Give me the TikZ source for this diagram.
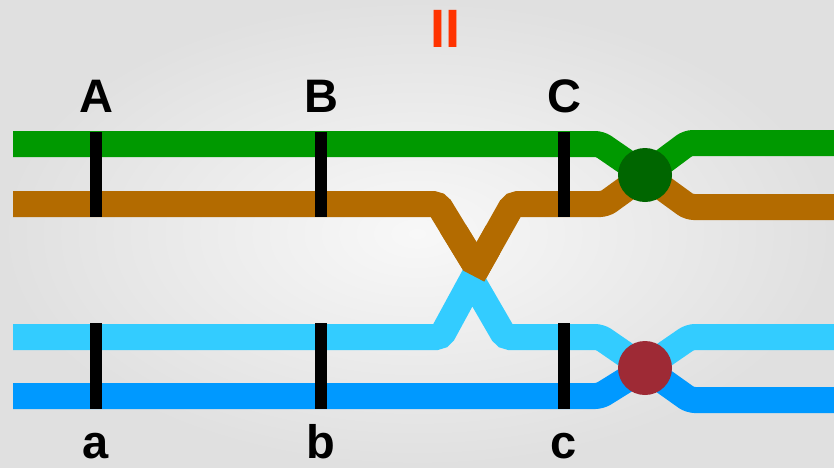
\documentclass[tikz,border=0pt]{standalone}
\usepackage{fontspec}
\setmainfont{Liberation Sans}
\definecolor{cgreen}{HTML}{009900}
\definecolor{corange}{HTML}{B36B00}
\definecolor{clight}{HTML}{33CCFF}
\definecolor{cblue}{HTML}{0099FF}
\definecolor{cdgreen}{HTML}{006600}
\definecolor{cred}{HTML}{9E2A35}
\definecolor{ctitle}{HTML}{FF3300}
\definecolor{bgin}{HTML}{F8F8F8}
\definecolor{bgout}{HTML}{E0E0E0}
\begin{document}
\begin{tikzpicture}[x=1pt,y=-1pt,
  track/.style={line width=26pt, rounded corners=5pt},
  tick/.style={line width=12pt, black},
  lbl/.style={font=\fontsize{47}{47}\selectfont\bfseries, anchor=base, inner sep=0pt},
  junc/.style={circle, minimum size=54pt, inner sep=0pt}]
\shade[inner color=bgin, outer color=bgout] (0,0) rectangle (834,467);
\useasboundingbox (0,0) rectangle (834,467);
% junction points
\coordinate (j1) at (645,175);
\coordinate (j2) at (645,368);
\coordinate (xo) at (477,268);
\coordinate (xl) at (472,280);
% tracks
\draw[track, cgreen] (13,144) -- (600,144) -- (j1) -- (688,143) -- (834,143);
\draw[track, corange] (13,204) -- (438,204) [sharp corners] -- (xo) [rounded corners=5pt] -- (513,204) -- (605,204) -- (j1) -- (689,207) -- (834,207);
\draw[track, clight] (13,337) -- (441,337) [sharp corners] -- (xl) [rounded corners=5pt] -- (505,337) -- (600,337) -- (j2) -- (690,337) -- (834,337);
\draw[track, cblue] (13,396) -- (600,396) -- (j2) -- (690,400) -- (834,400);
% orange on top above the crossing cut
\begin{scope}
\clip (440,258.5) -- (500,289.8) -- (500,225) -- (440,225) -- cycle;
\draw[track, corange] (13,204) -- (438,204) [sharp corners] -- (xo) [rounded corners=5pt] -- (513,204) -- (605,204);
\end{scope}
% ticks
\coordinate (tA1) at (96,131.5); \coordinate (tA2) at (96,217);
\coordinate (tB1) at (321,131.5); \coordinate (tB2) at (321,217);
\coordinate (tC1) at (564,131.5); \coordinate (tC2) at (564,217);
\coordinate (ta1) at (96,323); \coordinate (ta2) at (96,409);
\coordinate (tb1) at (321,323); \coordinate (tb2) at (321,409);
\coordinate (tc1) at (564,323); \coordinate (tc2) at (564,409);
\draw[tick] (tA1) -- (tA2);
\draw[tick] (tB1) -- (tB2);
\draw[tick] (tC1) -- (tC2);
\draw[tick] (ta1) -- (ta2);
\draw[tick] (tb1) -- (tb2);
\draw[tick] (tc1) -- (tc2);
% junction discs
\node[junc, fill=cdgreen] (J1) at (j1) {};
\node[junc, fill=cred] (J2) at (j2) {};
% labels
\node[lbl] (LA) at (96.5,112.7) {A};
\node[lbl] (LB) at (321.5,112.7) {B};
\node[lbl] (LC) at (564,112.7) {C};
\node[lbl] (la) at (96,458) {a};
\node[lbl] (lb) at (321,458) {b};
\node[lbl] (lc) at (564,458) {c};
\node[font=\fontsize{54}{54}\selectfont\bfseries, anchor=base, inner sep=0pt, text=ctitle, xscale=1.0] (title) at (445,47) {II};
\end{tikzpicture}
\end{document}
